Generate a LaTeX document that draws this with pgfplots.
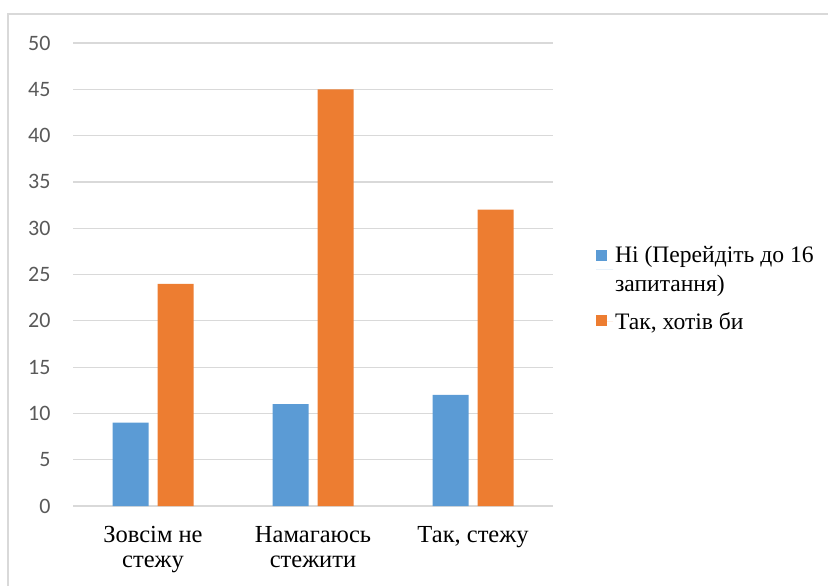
\documentclass[border=0pt]{standalone}
\usepackage{fontspec}
\setmainfont{Liberation Serif}
\newfontfamily\calibri{Carlito}
\usepackage{pgfplots}
\pgfplotsset{compat=1.18}
\definecolor{barblue}{HTML}{5B9BD5}
\definecolor{barorange}{HTML}{ED7D31}
\definecolor{gridgray}{HTML}{D9D9D9}
\definecolor{tickgray}{HTML}{595959}
\begin{document}
\begin{tikzpicture}[x=1pt,y=1pt]
\draw[gridgray, line width=1.2pt] (8,-14) rectangle (840,-600);
\begin{axis}[
  at={(73pt,-506pt)}, anchor=south west, scale only axis,
  width=480pt, height=463pt,
  ybar=9pt, bar width=36pt,
  xmin=-0.5, xmax=2.5, ymin=0, ymax=50,
  xtick={0,1,2},
  xticklabels={{Зовсім не\\стежу},{Намагаюсь\\стежити},{Так, стежу}},
  ytick={0,5,...,50},
  ymajorgrids, grid style={gridgray, line width=1.2pt},
  axis line style={draw=none},
  major tick length=0pt,
  /pgf/number format/assume math mode=true,
  yticklabel style={font=\calibri\fontsize{22}{26}\selectfont, text=tickgray, anchor=east, xshift=-19pt},
  xticklabel style={font=\fontsize{24.5}{25}\selectfont, align=center, anchor=north, yshift=-17pt},
  legend style={draw=none, fill=none, at={(1.083,0.57)}, anchor=north west,
    font=\fontsize{23.6}{29}\selectfont, cells={anchor=west, align=left},
    row sep=15pt},
]
\addplot[fill=barblue, draw=none,
  legend image code/.code={\fill[barblue] (0pt,9pt) rectangle (11pt,20pt); \path (0pt,0pt) -- (17pt,0pt);}]
  coordinates {(0,9) (1,11) (2,12)};
\addplot[fill=barorange, draw=none,
  legend image code/.code={\fill[barorange] (0pt,-4.5pt) rectangle (11pt,6.5pt); \path (0pt,0pt) -- (17pt,0pt);}]
  coordinates {(0,24) (1,45) (2,32)};
\legend{{Ні (Перейдіть до 16\\запитання)},{Так, хотів би}}
\end{axis}
\pgfresetboundingbox
\useasboundingbox (0,0) rectangle (828,-586);
\end{tikzpicture}
\end{document}
